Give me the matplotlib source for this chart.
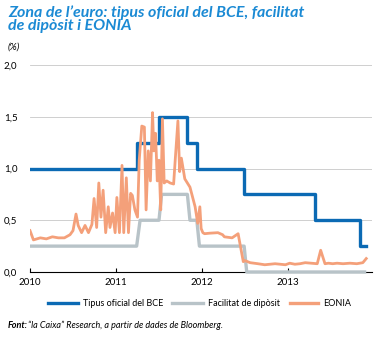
import numpy as np
import matplotlib.pyplot as plt
from matplotlib.lines import Line2D

plt.rcParams['font.family'] = ['Lato', 'DejaVu Sans']

# --- DATA (decimal years, %) ---
years = [2010, 2011, 2012, 2013]
y_ticks = [0.0, 0.5, 1.0, 1.5, 2.0]

# ECB main refinancing rate (step changes)
refi_t = [2010.00, 2011.24, 2011.50, 2011.83, 2011.94, 2012.49, 2013.31, 2013.84, 2013.91]
refi_v = [1.00, 1.25, 1.50, 1.25, 1.00, 0.75, 0.50, 0.25, 0.25]

# Deposit facility rate
dep_t = [2010.00, 2011.24, 2011.28, 2011.50, 2011.53, 2011.83, 2011.86,
         2011.94, 2011.97, 2012.49, 2012.52, 2013.91]
dep_v = [0.25, 0.25, 0.50, 0.50, 0.75, 0.75, 0.50, 0.50, 0.25, 0.25, 0.00, 0.00]

# EONIA
eonia_t = [2010.00, 2010.04, 2010.12, 2010.19, 2010.26, 2010.33, 2010.40, 2010.465,
           2010.50, 2010.535, 2010.56, 2010.60, 2010.64, 2010.68, 2010.72, 2010.745,
           2010.775, 2010.80, 2010.825, 2010.85, 2010.88, 2010.91, 2010.93, 2010.96,
           2010.99, 2011.01, 2011.04, 2011.07, 2011.09, 2011.12, 2011.145, 2011.17,
           2011.19, 2011.22, 2011.25, 2011.27, 2011.30, 2011.33, 2011.35, 2011.375,
           2011.40, 2011.425, 2011.44, 2011.46, 2011.48, 2011.50, 2011.52, 2011.54,
           2011.56, 2011.59, 2011.63, 2011.67, 2011.69, 2011.72, 2011.74, 2011.76,
           2011.80, 2011.86, 2011.92, 2011.95, 2011.975, 2011.99, 2012.01, 2012.03,
           2012.09, 2012.185, 2012.24, 2012.26, 2012.35, 2012.42, 2012.48, 2012.50,
           2012.56, 2012.65, 2012.73, 2012.85, 2012.97, 2013.02, 2013.08, 2013.14,
           2013.20, 2013.34, 2013.38, 2013.43, 2013.47, 2013.52, 2013.57, 2013.64,
           2013.72, 2013.80, 2013.87, 2013.91]
eonia_v = [0.40, 0.31, 0.33, 0.32, 0.34, 0.33, 0.33, 0.36,
           0.40, 0.56, 0.45, 0.38, 0.45, 0.38, 0.46, 0.71,
           0.43, 0.86, 0.53, 0.79, 0.38, 0.63, 0.43, 0.57,
           0.38, 0.72, 0.38, 1.03, 0.38, 0.91, 0.38, 0.76,
           0.74, 0.60, 0.53, 1.08, 1.41, 1.40, 0.60, 1.17,
           0.88, 1.54, 1.17, 1.34, 0.88, 1.08, 0.60, 1.48,
           0.86, 0.88, 0.86, 0.85, 1.10, 1.46, 0.97, 1.10,
           0.90, 0.82, 0.63, 0.47, 0.63, 0.42, 0.38, 0.37,
           0.375, 0.38, 0.36, 0.34, 0.33, 0.37, 0.10, 0.11,
           0.09, 0.08, 0.07, 0.08, 0.07, 0.085, 0.075, 0.08,
           0.09, 0.08, 0.21, 0.08, 0.085, 0.08, 0.085, 0.08,
           0.085, 0.08, 0.09, 0.13]

series_labels = ['Tipus oficial del BCE', 'Facilitat de dip\u00f2sit', 'EONIA']

BLUE = '#0b6ab4'
GREY = '#b8c3c8'
ORANGE = '#f4a07a'
TITLE = '#1b8ad4'

# --- FIGURE ---
W, H = 390, 338
fig = plt.figure(figsize=(W / 100, H / 100), dpi=100)
ax = fig.add_axes([30 / W, 66 / H, 342 / W, 207 / H])

ax.plot(dep_t, dep_v, color=GREY, lw=2.4, solid_capstyle='butt', clip_on=False, zorder=3)
ax.plot(refi_t, refi_v, color=BLUE, lw=2.4, drawstyle='steps-post', zorder=4)
ax.plot(eonia_t, eonia_v, color=ORANGE, lw=2.0, solid_joinstyle='round', zorder=5)

ax.set_xlim(2010, 2010 + 342 / 86)
ax.set_ylim(0, 2.0)
ax.set_xticks(years)
ax.set_xticklabels([str(y) for y in years], fontsize=7)
ax.set_yticks(y_ticks)
ax.set_yticklabels([f'{v:.1f}'.replace('.', ',') for v in y_ticks], fontsize=7)
ax.tick_params(axis='x', direction='in', length=3, width=0.8, pad=4, colors='black')
ax.tick_params(axis='y', length=0, pad=9)
ax.grid(axis='y', color='#c8c8c8', lw=0.6)
ax.set_axisbelow(True)
for s in ['top', 'right', 'left']:
    ax.spines[s].set_visible(False)
ax.spines['bottom'].set_linewidth(0.8)
ax.spines['bottom'].set_zorder(2)

# --- TEXT ---
fig.text(8 / W, 1 - 5 / H, "Zona de l\u2019euro: tipus oficial del BCE, facilitat\nde dip\u00f2sit i EONIA",
         color=TITLE, fontsize=11.5, fontweight='bold', fontstyle='italic',
         va='top', ha='left', linespacing=0.92)
fig.text(8 / W, 1 - 47 / H, '(%)', fontsize=7, fontstyle='italic', va='center', ha='left')

# legend row drawn by hand (line sample + label)
leg_y = 1 - 303 / H
for (x0, x1), lab, col in zip([(48, 78), (172, 203), (290, 318)], series_labels,
                              [BLUE, GREY, ORANGE]):
    fig.add_artist(Line2D([x0 / W, x1 / W], [leg_y, leg_y], color=col, lw=2.4,
                          transform=fig.transFigure))
    fig.text((x1 + 5) / W, leg_y, lab, fontsize=6.5, va='center', ha='left')

fig.text(8 / W, 1 - 325 / H, 'Font:', fontsize=6.5, fontweight='bold', fontstyle='italic',
         va='center', ha='left')
fig.text(28 / W, 1 - 325 / H, '\u201cla Caixa\u201d Research, a partir de dades de Bloomberg.',
         fontsize=6.5, fontstyle='italic', va='center', ha='left')

fig.savefig('out.png', dpi=100)
